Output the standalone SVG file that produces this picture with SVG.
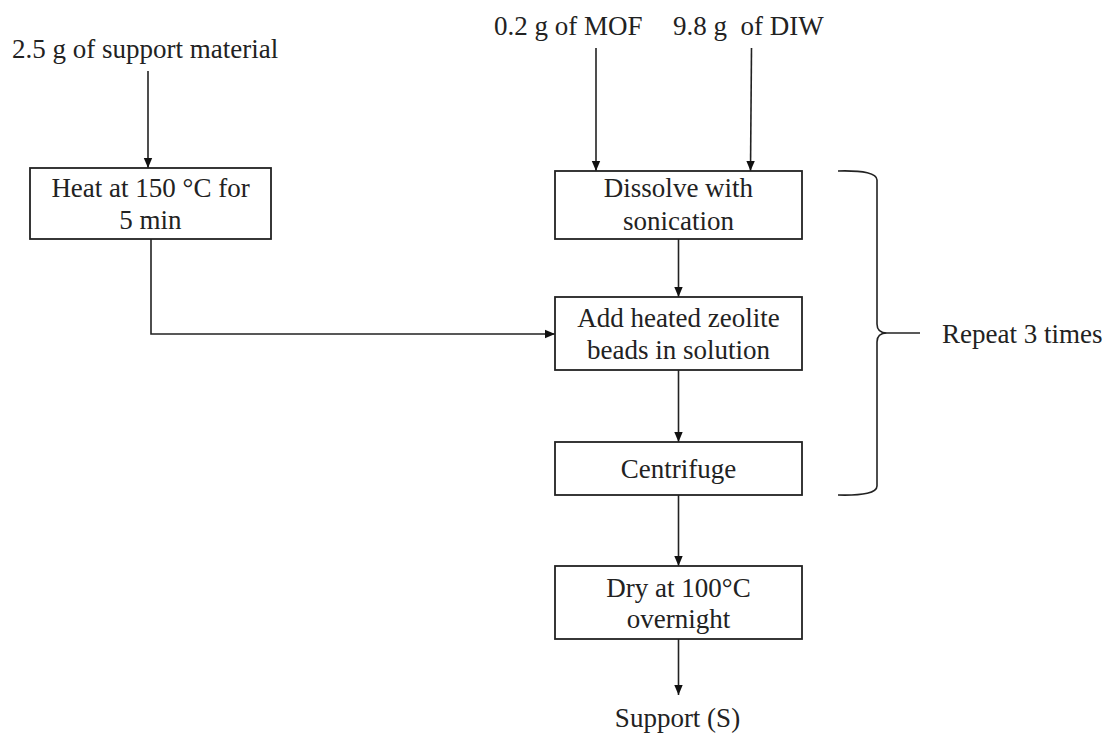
<svg xmlns="http://www.w3.org/2000/svg" width="1108" height="740" viewBox="0 0 1108 740">
<defs>
<marker id="ah" markerUnits="userSpaceOnUse" markerWidth="10" markerHeight="10" viewBox="0 0 10 10" refX="10" refY="5" orient="auto">
<path d="M0,0.8 L10,5 L0,9.2 Z" fill="#111"/>
</marker>
<style>
.box{fill:#fff;stroke:#222;stroke-width:1.8}
.t{font-family:"Liberation Serif","Times New Roman",serif;font-size:27px;fill:#222}
.m{text-anchor:middle}
.c{fill:none;stroke:#222;stroke-width:1.6}
</style>
</defs>
<rect width="1108" height="740" fill="#fff"/>
<g id="connectors">
<path class="c" d="M148,71 L148,168" marker-end="url(#ah)"/>
<path class="c" d="M596,48 L596,171" marker-end="url(#ah)"/>
<path class="c" d="M751.5,48 L750.5,171" marker-end="url(#ah)"/>
<path class="c" d="M151,239 L151,334 L555,334" marker-end="url(#ah)"/>
<path class="c" d="M678.5,239 L678.5,297" marker-end="url(#ah)"/>
<path class="c" d="M678.5,370 L678.5,442" marker-end="url(#ah)"/>
<path class="c" d="M678.5,495 L678.5,566" marker-end="url(#ah)"/>
<path class="c" d="M678.5,639 L678.5,695" marker-end="url(#ah)"/>
</g>
<g id="input-support">
<text class="t" x="12" y="58">2.5 g of support material</text>
</g>
<g id="input-mof">
<text class="t" x="494" y="35">0.2 g of MOF</text>
</g>
<g id="input-diw">
<text class="t" x="673" y="35" xml:space="preserve">9.8 g  of DIW</text>
</g>
<g id="heat">
<rect class="box" x="30" y="168" width="241" height="71"/>
<text class="t m" x="150.5" y="197">Heat at 150 °C for</text>
<text class="t m" x="150.5" y="229">5 min</text>
</g>
<g id="dissolve">
<rect class="box" x="555" y="171" width="247" height="68"/>
<text class="t m" x="678.5" y="197">Dissolve with</text>
<text class="t m" x="678.5" y="230">sonication</text>
</g>
<g id="add">
<rect class="box" x="555" y="297" width="247" height="73"/>
<text class="t m" x="678.5" y="327">Add heated zeolite</text>
<text class="t m" x="678.5" y="359">beads in solution</text>
</g>
<g id="centrifuge">
<rect class="box" x="555" y="442" width="247" height="53"/>
<text class="t m" x="678.5" y="478">Centrifuge</text>
</g>
<g id="dry">
<rect class="box" x="555" y="566" width="247" height="73"/>
<text class="t m" x="678.5" y="597">Dry at 100°C</text>
<text class="t m" x="678.5" y="628">overnight</text>
</g>
<g id="support-s">
<text class="t m" x="677.5" y="727">Support (S)</text>
</g>
<g id="repeat">
<path class="c" d="M838,171 Q877,170 877,180 L877,324 Q877,333 887,333 Q877,333 877,342 L877,486 Q877,496 838,495"/>
<path class="c" d="M887,333 L920,333"/>
<text class="t" x="942" y="343">Repeat 3 times</text>
</g>
</svg>
